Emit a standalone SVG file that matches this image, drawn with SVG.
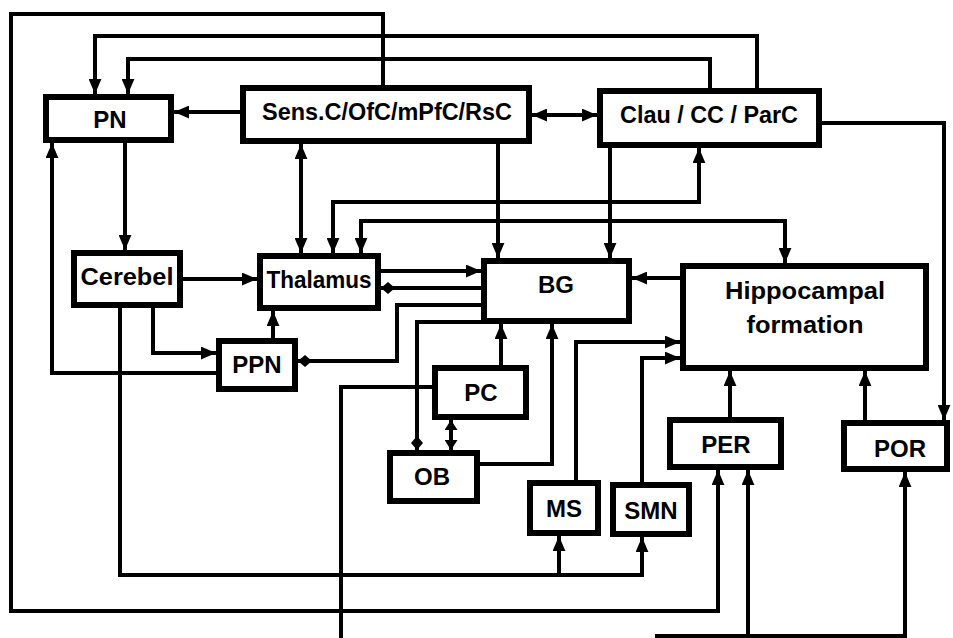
<svg xmlns="http://www.w3.org/2000/svg" width="953" height="638" viewBox="0 0 953 638">
<style>
.box{fill:#fff;stroke:#000;stroke-width:6}
.lbl{font-family:"Liberation Sans",Arial,sans-serif;font-weight:bold;font-size:24px;fill:#000;text-anchor:middle}
.c{fill:none;stroke:#000;stroke-width:4}
.a{marker-end:url(#arr)}
.b{marker-start:url(#arr);marker-end:url(#arr)}
.s{marker-start:url(#arrs);marker-end:url(#arrs)}
.d{marker-end:url(#dia)}
</style>
<defs>
<marker id="arr" viewBox="0 0 14 12" refX="14" refY="6" markerWidth="15" markerHeight="13" markerUnits="userSpaceOnUse" orient="auto-start-reverse"><path d="M0,0L14,6L0,12z" fill="#000"/></marker>
<marker id="arrs" viewBox="0 0 10 13" refX="10" refY="6.5" markerWidth="10" markerHeight="13" markerUnits="userSpaceOnUse" orient="auto-start-reverse"><path d="M0,0L10,6.5L0,13z" fill="#000"/></marker>
<marker id="dia" viewBox="0 0 14 12" refX="14" refY="6" markerWidth="14" markerHeight="13" markerUnits="userSpaceOnUse" orient="auto"><path d="M0,6L7,0L14,6L7,12z" fill="#000"/></marker>
</defs>
<rect width="953" height="638" fill="#fff"/>
<g id="connectors">
<path class="c a" d="M383,85V14H11V611H718V470"/>
<path class="c a" d="M757,88V36H95V94"/>
<path class="c a" d="M710,88V59H128V94"/>
<path class="c a" d="M240,112H174"/>
<path class="c b" d="M532,115H597"/>
<path class="c a" d="M125,143V250"/>
<path class="c a" d="M216,373H52V143"/>
<path class="c b" d="M301,144V253"/>
<path class="c a" d="M183,279H257"/>
<path class="c a" d="M153,308V353H216"/>
<path class="c a" d="M273,338V311"/>
<path class="c a" d="M120,308V575H642V537"/>
<path class="c a" d="M559,575V536"/>
<path class="c" d="M432,387H341V638"/>
<path class="c a" d="M381,271H481"/>
<path class="c d" d="M481,288H381"/>
<path class="c d" d="M481,305H397V361H298"/>
<path class="c d" d="M481,322H417V450"/>
<path class="c a" d="M501,365V324"/>
<path class="c a" d="M477,464H552V324"/>
<path class="c s" d="M451,420V450"/>
<path class="c a" d="M498,144V258"/>
<path class="c a" d="M610,148V258"/>
<path class="c b" d="M333,253V202H699V148"/>
<path class="c b" d="M361,253V221H785V263"/>
<path class="c a" d="M680,278H632"/>
<path class="c a" d="M576,480V342H680"/>
<path class="c a" d="M642,482V358H680"/>
<path class="c a" d="M730,417V371"/>
<path class="c a" d="M865,420V371"/>
<path class="c a" d="M822,123H944V420"/>
<path class="c a" d="M655,636H905V472"/>
<path class="c a" d="M748,636V470"/>
</g>
<g id="PN"><rect class="box" x="46" y="97" width="125" height="43"/><text class="lbl" x="110" y="128">PN</text></g>
<g id="Sens"><rect class="box" x="243" y="88" width="286" height="53"/><text class="lbl" x="387" y="120" textLength="250" lengthAdjust="spacingAndGlyphs">Sens.C/OfC/mPfC/RsC</text></g>
<g id="Clau"><rect class="box" x="600" y="91" width="219" height="54"/><text class="lbl" x="709" y="123" textLength="178" lengthAdjust="spacingAndGlyphs">Clau / CC / ParC</text></g>
<g id="Cerebel"><rect class="box" x="74" y="253" width="106" height="52"/><text class="lbl" x="127" y="285" textLength="93" lengthAdjust="spacingAndGlyphs">Cerebel</text></g>
<g id="Thalamus"><rect class="box" x="260" y="256" width="118" height="52"/><text class="lbl" x="319" y="288" textLength="105" lengthAdjust="spacingAndGlyphs">Thalamus</text></g>
<g id="PPN"><rect class="box" x="219" y="341" width="76" height="48"/><text class="lbl" x="257" y="373">PPN</text></g>
<g id="BG"><rect class="box" x="484" y="261" width="145" height="60"/><text class="lbl" x="556" y="293">BG</text></g>
<g id="Hippocampal"><rect class="box" x="683" y="266" width="243" height="102"/><text class="lbl" x="805" y="299" textLength="160" lengthAdjust="spacingAndGlyphs">Hippocampal</text><text class="lbl" x="805" y="333" textLength="117" lengthAdjust="spacingAndGlyphs">formation</text></g>
<g id="PC"><rect class="box" x="435" y="368" width="91" height="49"/><text class="lbl" x="481" y="401">PC</text></g>
<g id="OB"><rect class="box" x="390" y="453" width="87" height="48"/><text class="lbl" x="432" y="485">OB</text></g>
<g id="MS"><rect class="box" x="530" y="483" width="68" height="50"/><text class="lbl" x="564" y="517">MS</text></g>
<g id="SMN"><rect class="box" x="613" y="485" width="76" height="49"/><text class="lbl" x="651" y="519">SMN</text></g>
<g id="PER"><rect class="box" x="670" y="420" width="111" height="47"/><text class="lbl" x="726" y="453">PER</text></g>
<g id="POR"><rect class="box" x="844" y="423" width="103" height="46"/><text class="lbl" x="900" y="457">POR</text></g>
</svg>
